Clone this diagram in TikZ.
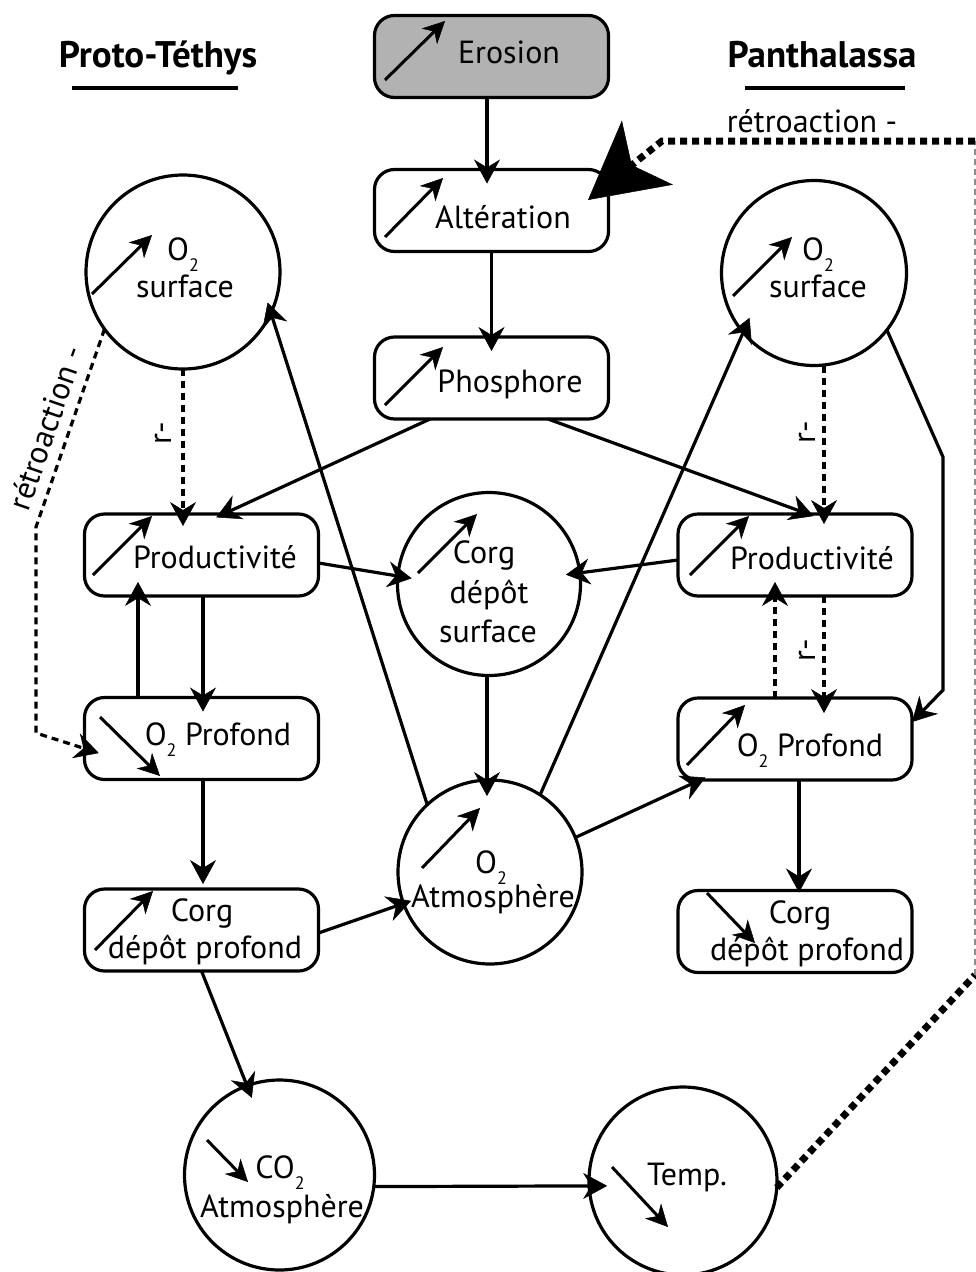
\documentclass[tikz,border=0pt]{standalone}
\usepackage{fontspec}
\setmainfont{PT Sans}
\usetikzlibrary{arrows.meta}
% lowered small digit used for chemical subscripts
\newcommand\osub[1]{\raisebox{-11pt}{\fontsize{18}{18}\selectfont #1}}
\begin{document}
\begin{tikzpicture}[x=1pt,y=-1pt,
  every node/.style={font=\fontsize{32}{39}\selectfont, inner sep=0pt, outer sep=0pt},
  box/.style={draw, line width=3.2pt, rounded corners=20pt, minimum width=234pt, minimum height=82pt},
  bubble/.style={draw, circle, line width=3.2pt},
  txt/.style={anchor=base},
  title/.style={anchor=base, font=\fontsize{37}{42}\selectfont\bfseries},
  arr/.style={line width=3.2pt, -{Stealth[length=24pt,width=26pt,inset=8pt,line width=0.5pt]}, shorten >=-14pt},
  dsh/.style={arr, dash pattern=on 7pt off 5pt},
  icon/.style={line width=3pt, -{Stealth[length=22pt,width=22pt,inset=7pt,line width=0.5pt]}},
  fbdot/.style={line width=7pt, dash pattern=on 7pt off 5pt},
  fbgray/.style={line width=1.4pt, black!45, dash pattern=on 6pt off 4pt},
]
\useasboundingbox (0,0) rectangle (976,1272);

% ---- boxes
\node[box, fill=gray!60] (ero) at (491.5,56.5) {};
\node[box] (alt)   at (491.5,210.5) {};
\node[box] (pho)   at (491.5,378) {};
\node[box] (prodL) at (201.5,555) {};
\node[box] (prodR) at (795,555) {};
\node[box] (o2pL)  at (201.5,738.5) {};
\node[box] (o2pR)  at (795,739) {};
\node[box] (corgL) at (201.5,930) {};
\node[box] (corgR) at (795,931.5) {};

% ---- circles
\node[bubble, minimum size=194pt] (o2sL)  at (183,272) {};
\node[bubble, minimum size=185pt] (o2sR)  at (814,273) {};
\node[bubble, minimum size=183pt] (corgS) at (489,584) {};
\node[bubble, minimum size=184pt] (o2atm) at (490,872) {};
\node[bubble, minimum size=190pt] (co2)   at (279.5,1175) {};
\node[bubble, minimum size=188pt] (temp)  at (683,1181) {};

% ---- titles
\node[title] (ttL) at (158,67) {Proto-Téthys};
\node[title] (ttR) at (822,67) {Panthalassa};
\draw[line width=3.2pt] (72,88) -- (238,88);
\draw[line width=3.2pt] (745,88) -- (905,88);

% ---- texts
\node[txt] (ero-t)  at (509,63) {Erosion};
\node[txt] (alt-t)  at (503,228) {Altération};
\node[txt] (pho-t)  at (510,392) {Phosphore};
\node[txt] (prodL-t) at (215,568) {Productivité};
\node[txt] (prodR-t) at (812,569) {Productivité};
\node[txt] (o2pL-t) at (218,745) {O\osub{2} Profond};
\node[txt] (o2pR-t) at (810,756) {O\osub{2} Profond};
\node[txt] (corgL-t1) at (202,921) {Corg};
\node[txt] (corgL-t2) at (205,958) {dépôt profond};
\node[txt] (corgR-t1) at (800,923) {Corg};
\node[txt] (corgR-t2) at (807,960) {dépôt profond};
\node[txt] (corgS-t1) at (484,563) {Corg};
\node[txt] (corgS-t2) at (489,603) {dépôt};
\node[txt] (corgS-t3) at (488,642) {surface};
\node[txt] (o2sL-t1) at (183,260) {O\osub{2}};
\node[txt] (o2sL-t2) at (185,297) {surface};
\node[txt] (o2sR-t1) at (818,260) {O\osub{2}};
\node[txt] (o2sR-t2) at (818,297) {surface};
\node[txt] (o2atm-t1) at (491,873) {O\osub{2}};
\node[txt] (o2atm-t2) at (493,907) {Atmosphère};
\node[txt] (co2-t1) at (280,1178) {CO\osub{2}};
\node[txt] (co2-t2) at (282,1217) {Atmosphère};
\node[txt] (temp-t) at (687,1185) {Temp.};

% ---- side labels
\node[rotate=90] (rL)  at (163,433) {r-};
\node[rotate=90] (rR1) at (807,432) {r-};
\node[rotate=90] (rR2) at (807,650) {r-};
\node[rotate=71] (fbL) at (46,428) {rétroaction -};
\node[txt] (fbT) at (812,132) {rétroaction -};

% ---- trend arrows inside the nodes
\draw[icon] (385,80) -- (445,21);
\draw[icon] (385,237) -- (443,178);
\draw[icon] (385,405) -- (443,347);
\draw[icon] (92,294) -- (152,235);
\draw[icon] (733,296) -- (792,237);
\draw[icon] (93,575) -- (152,516);
\draw[icon] (690,575) -- (749,516);
\draw[icon] (418,573) -- (477,514);
\draw[icon] (100,717) -- (160,776);
\draw[icon] (687,765) -- (745,705);
\draw[icon] (422,868) -- (480,808);
\draw[icon] (95,950) -- (153,891);
\draw[icon] (707,893) -- (755,943);
\draw[icon] (207,1140) -- (248,1182);
\draw[icon] (612,1167) -- (668,1227);

% ---- bend points
\coordinate (k1) at (943,457);
\coordinate (k2) at (943,690);
\coordinate (k3) at (36,527);
\coordinate (k4) at (36,733);
\coordinate (fbA) at (975,975);
\coordinate (fbB) at (975,141);
\coordinate (fbC) at (662,141);

% ---- connectors
\draw[arr] ([xshift=-4.5pt]ero.south) -- ([xshift=-4.5pt]alt.north);
\draw[arr] (alt.south) -- (pho.north);
\draw[arr, shorten >=-8pt] ([xshift=-61.5pt]pho.south) -- ([xshift=22pt]prodL.north);
\draw[arr, shorten >=-6pt] ([xshift=56.5pt]pho.south) -- ([xshift=13pt]prodR.north);
\draw[dsh, shorten >=-12pt] (o2sL.south) -- ([xshift=-18.5pt]prodL.north);
\draw[arr] ([yshift=-8pt]prodL.east) -- (corgS.175);
\draw[arr] ([yshift=-5pt]prodR.west) -- (corgS.7);
\draw[arr] ([xshift=-63.5pt]o2pL.north) -- ([xshift=-63.5pt]prodL.south);
\draw[arr] ([xshift=1.5pt]prodL.south) -- ([xshift=1.5pt]o2pL.north);
\draw[arr, shorten >=5pt] ([xshift=1.5pt]o2pL.south) -- ([xshift=1.5pt]corgL.north);
\draw[arr, shorten >=-8pt] ([yshift=-3pt]corgL.east) -- (o2atm.200);
\draw[arr, shorten >=-13pt] (corgL.south) -- (co2.110);
\draw[arr, shorten >=-18pt] (co2.-7) -- (temp.183);
\draw[arr, shorten >=-16pt] ([xshift=-2pt]corgS.south) -- ([xshift=-3pt]o2atm.north);
\draw[arr, shorten >=-11pt] (o2atm.133) -- (o2sL.-25);
\draw[arr, shorten >=-16pt] (o2atm.57) -- (o2sR.220);
\draw[arr, shorten >=-6pt] (o2atm.22) -- ([xshift=22pt]o2pR.south west);
\draw[arr, shorten >=0pt] (o2sR.-38) -- (k1) -- (k2) -- ([yshift=-24pt]o2pR.north east);
\draw[dsh, shorten >=-10pt] ([xshift=10pt]o2sR.south) -- ([xshift=29pt]prodR.north);
\draw[dsh, shorten >=-15pt] ([xshift=29pt]prodR.south) -- ([xshift=29pt]o2pR.north);
\draw[dsh, shorten >=-14pt] ([xshift=-20pt]o2pR.north) -- ([xshift=-20pt]prodR.south);
\draw[arr, shorten >=-2pt] ([xshift=4pt]o2pR.south) -- ([xshift=4pt]corgR.north);
\draw[dsh, shorten >=-15pt] (o2sL.216) -- (k3) -- (k4) -- ([yshift=-10pt]o2pL.west);

% ---- negative feedback loop from temperature back to weathering
\draw[fbdot] (temp.-4) -- (fbA);
\draw[fbgray] (fbA) -- (fbB);
\draw[fbdot, -{Stealth[length=76pt,width=82pt,inset=20pt,line width=0.5pt]}] (fbB) -- (fbC) -- ([xshift=-20.5pt,yshift=-30.5pt]alt.north east);
\end{tikzpicture}
\end{document}
